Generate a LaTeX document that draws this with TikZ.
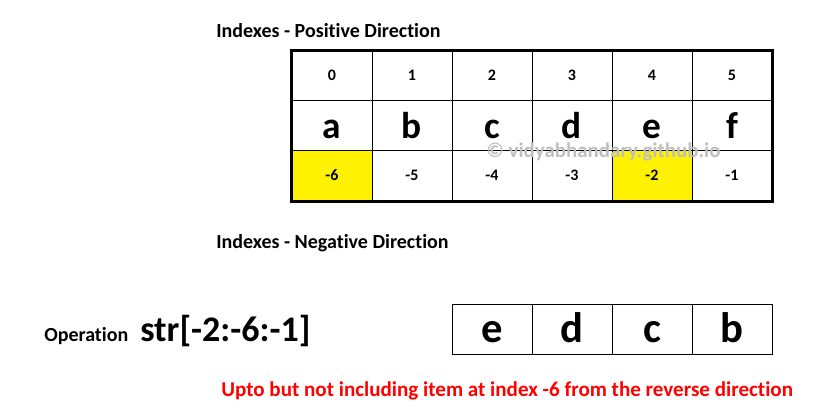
\documentclass[tikz,border=0pt]{standalone}
\usepackage{fontspec}
\setmainfont{Carlito}[Ligatures=NoCommon]
\usepackage{tikz}
\usetikzlibrary{fit}
\tikzstyle{cell}    = [rectangle, minimum width=60pt, minimum height=37.5pt, inner sep=0pt, text centered, draw=black, line width=0.75pt, font=\fontsize{12}{12}\selectfont\bfseries]
\tikzstyle{letter}  = [cell, text height=19.5pt, text depth=0pt, font=\fontsize{28}{28}\selectfont\bfseries]
\tikzstyle{result}  = [cell, text height=18.8pt, text depth=0pt, font=\fontsize{32}{32}\selectfont\bfseries]
\tikzstyle{picked}  = [cell, fill=yellow]
\tikzstyle{title}   = [inner sep=0pt, anchor=base west, font=\fontsize{15}{15}\selectfont\bfseries]

\begin{document}
\begin{tikzpicture}[x=0.75pt, y=-0.75pt, node distance=37.5pt]
      \useasboundingbox (0,0) rectangle (819,411);

      \node (posTitle) [title] at (216,37) {Indexes - Positive Direction};

      \node (0A)  [cell]                            at (332,75.5) {0};
      \node (1A)  [cell, right of=0A, xshift=22.5pt] {1};
      \node (2A)  [cell, right of=1A, xshift=22.5pt] {2};
      \node (3A)  [cell, right of=2A, xshift=22.5pt] {3};
      \node (4A)  [cell, right of=3A, xshift=22.5pt] {4};
      \node (5A)  [cell, right of=4A, xshift=22.5pt] {5};

      \node (0B)  [letter, below of=0A] {a};
      \node (1B)  [letter, below of=1A] {b};
      \node (2B)  [letter, below of=2A] {c};
      \node (3B)  [letter, below of=3A] {d};
      \node (4B)  [letter, below of=4A] {e};
      \node (5B)  [letter, below of=5A] {f};

      \node (0C)  [picked, below of=0B] {-6};
      \node (1C)  [cell,   below of=1B] {-5};
      \node (2C)  [cell,   below of=2B] {-4};
      \node (3C)  [cell,   below of=3B] {-3};
      \node (4C)  [picked, below of=4B] {-2};
      \node (5C)  [cell,   below of=5B] {-1};

      \node (frame) [draw=black, line width=2.25pt, inner sep=0pt, fit=(0A)(5C)] {};

      \node (wmark) [text=black!25, font=\fontsize{15.7}{15.7}\selectfont\bfseries] at (603.5,152) {© vidyabhandary.github.io};

      \node (negTitle) [title] at (216,248) {Indexes - Negative Direction};

      \node (op)   [title] at (44,341) {Operation};
      \node (expr) [inner sep=0pt, anchor=base west, font=\fontsize{27}{27}\selectfont\bfseries] at (140,341) {str[-2:-6:-1]};

      \node (0R)  [result]                            at (492,329.8) {e};
      \node (1R)  [result, right of=0R, xshift=22.5pt] {d};
      \node (2R)  [result, right of=1R, xshift=22.5pt] {c};
      \node (3R)  [result, right of=2R, xshift=22.5pt] {b};

      \node (note) [title, text=red, font=\fontsize{15.8}{15.8}\selectfont\bfseries] at (221,396) {Upto but not including item at index -6 from the reverse direction};

    \end{tikzpicture}
\end{document}
